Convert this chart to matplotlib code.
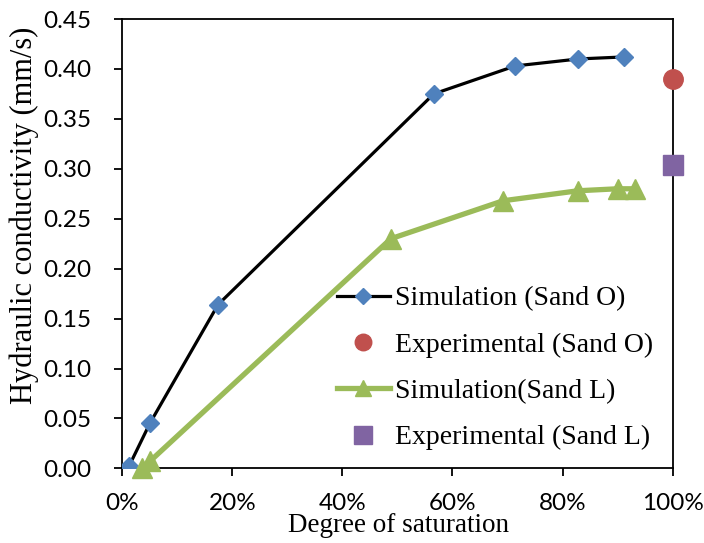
import matplotlib
matplotlib.use("Agg")
import matplotlib.pyplot as plt
from matplotlib.ticker import FuncFormatter, MultipleLocator

# Simulated curves (degree of saturation in %, conductivity in mm/s)
sat_sand_o = [1.2, 5.0, 17.4, 56.6, 71.4, 82.9, 91.1]
k_sand_o = [0.002, 0.045, 0.164, 0.375, 0.403, 0.410, 0.412]

sat_sand_l = [3.5, 5.0, 48.8, 69.2, 82.8, 90.0, 93.2]
k_sand_l = [0.000, 0.007, 0.230, 0.268, 0.278, 0.280, 0.280]

# Measured values at full saturation
sat_exp = [100.0]
k_exp_sand_o = [0.390]
k_exp_sand_l = [0.304]

labels = ["Simulation (Sand O)", "Experimental (Sand O)",
          "Simulation(Sand L)", "Experimental (Sand L)"]

BLUE = "#4F81BD"
RED = "#C0504D"
GREEN = "#9BBB59"
PURPLE = "#8064A2"

serif = "Liberation Serif"
tickfont = "Lato"

fig = plt.figure(figsize=(7.04, 5.43), dpi=100)
ax_w = 672.6 - 122.3
ax_h = 468.4 - 19
ax = fig.add_axes([122.3 / 704, 1 - 468.4 / 543, ax_w / 704, ax_h / 543])

h1, = ax.plot(sat_sand_o, k_sand_o, color="black", lw=2.3, marker="D", ms=9.5,
              mfc=BLUE, mec=BLUE, zorder=3)
h2, = ax.plot(sat_exp, k_exp_sand_o, ls="none", marker="o", ms=14, color=RED,
              clip_on=False, zorder=4)
h3, = ax.plot(sat_sand_l, k_sand_l, color=GREEN, lw=3.8, marker="^", ms=14,
              mfc=GREEN, mec=GREEN, clip_on=False, zorder=3)
h4, = ax.plot(sat_exp, k_exp_sand_l, ls="none", marker="s", ms=14.5, color=PURPLE,
              clip_on=False, zorder=4)

ax.set_xlim(0, 100)
ax.set_ylim(0, 0.45)
ax.xaxis.set_major_locator(MultipleLocator(20))
ax.yaxis.set_major_locator(MultipleLocator(0.05))
ax.xaxis.set_major_formatter(FuncFormatter(lambda v, p: f"{v:.0f}%"))
ax.yaxis.set_major_formatter(FuncFormatter(lambda v, p: f"{v:.2f}"))

for s in ax.spines.values():
    s.set_linewidth(1.3)
ax.tick_params(axis="both", direction="out", width=1.3, length=6, labelsize=17.5)
ax.tick_params(axis="y", pad=16)
ax.tick_params(axis="x", pad=12)
for lab in ax.get_xticklabels() + ax.get_yticklabels():
    lab.set_fontfamily(tickfont)

ax.set_xlabel("Degree of saturation", fontfamily=serif, fontsize=19.5)
ax.xaxis.set_label_coords((398 - 122.3) / ax_w, (468.4 - 513) / ax_h)
ax.set_ylabel("Hydraulic conductivity (mm/s)", fontfamily=serif, fontsize=22)
ax.yaxis.set_label_coords((39 - 122.3) / ax_w, (468.4 - 215) / ax_h)

leg = ax.legend([h1, h2, h3, h4], labels, loc="upper left",
                bbox_to_anchor=((337 - 122.3) / ax_w, (468.4 - 286) / ax_h),
                frameon=False, prop={"family": serif, "size": 20},
                handlelength=1.9, handletextpad=0.2, labelspacing=0.75,
                borderpad=0, borderaxespad=0, markerscale=0.85)

fig.savefig("out.png", dpi=100)
